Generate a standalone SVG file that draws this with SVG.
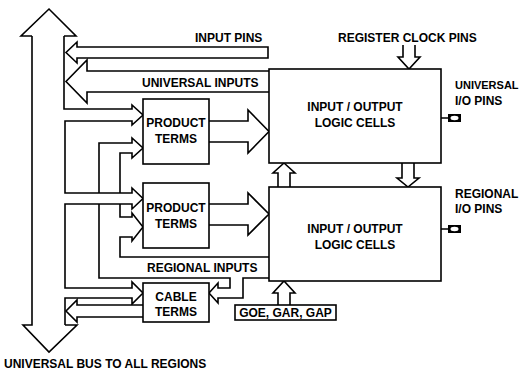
<svg xmlns="http://www.w3.org/2000/svg" width="521" height="373" viewBox="0 0 521 373">
<style>
.ln{fill:none;stroke:#000;stroke-width:1.6;stroke-linejoin:miter}
.ar{fill:#fff;stroke:#000;stroke-width:1.6}
.bx{fill:#fff;stroke:#000;stroke-width:1.6}
text{font-family:"Liberation Sans",Arial,sans-serif;font-size:12px;font-weight:bold;fill:#000}
.c{text-anchor:middle}
.s{font-size:11px}
</style>
<rect width="521" height="373" fill="#fff"/>
<g id="connectors">
<!-- universal bus -->
<path class="ln" d="M32,36 H21 L49,9 L76,36 H64"/>
<path class="ln" d="M32,36 V325 H23 L49,352 L77,325 H65"/>
<path class="ln" d="M64,36 V109 H132 V105 L143,115 L132,125 V121 H65 V193 H132 V188 L143,198.5 L132,209 V204 H65 V288 H132 V282 L143,293 L132,304 V298 H65 V325"/>
<!-- regional pipe to PT1 -->
<path class="ln" d="M99,193 V143 H132 V138 L143,148 L132,158 V153 H120 V193"/>
<!-- regional inputs pipe -->
<path class="ln" d="M120,204 V217 H132 V213 L143,227 L132,241 V237 H120 V257 H269"/>
<path class="ln" d="M99,204 V278 H230 V288 H218 V283 L209,293 L218,303 V298 H243 V278 H269"/>
<!-- cable terms output to bus -->
<path class="ar" d="M143,317 H77 V322 L66,311 L77,300 V305 H143"/>
<!-- input pins -->
<path class="ar" d="M268,47 H77 V42 L66,52.5 L77,63 V58 H268 Z"/>
<!-- universal inputs -->
<path class="ar" d="M269,71 H87 V60 L66,81.5 L87,103 V92 H269"/>
<!-- product terms outputs -->
<path class="ar" d="M209,121 H248 V110 L269,131.5 L248,153 V142 H209"/>
<path class="ar" d="M209,204 H248 V193 L269,214 L248,235 V225 H209"/>
<!-- between IO cells -->
<path class="ar" d="M278,187 V173 H273 L284,163 L295,173 H290 V187"/>
<path class="ar" d="M402,163 V178 H397 L408,187 L419,178 H414 V163"/>
<!-- register clock -->
<path class="ar" d="M403,45 V57 H398 L409,69 L420,57 H415 V45"/>
<!-- GOE up -->
<path class="ar" d="M278,305 V293 H273 L284,281 L295,293 H290 V305"/>
<!-- pins -->
<path class="ln" d="M441,118 H448 M441,229 H448"/>
</g>
<g id="io1">
<rect class="bx" x="269" y="69" width="172" height="94"/>
<text class="c" x="355" y="111">INPUT / OUTPUT</text>
<text class="c" x="355" y="127">LOGIC CELLS</text>
</g>
<g id="io2">
<rect class="bx" x="269" y="187" width="172" height="94"/>
<text class="c" x="355" y="233">INPUT / OUTPUT</text>
<text class="c" x="355" y="249">LOGIC CELLS</text>
</g>
<g id="pt1">
<rect class="bx" x="143" y="99" width="66" height="65"/>
<text class="c" x="176" y="127">PRODUCT</text>
<text class="c" x="176" y="143">TERMS</text>
</g>
<g id="pt2">
<rect class="bx" x="143" y="183" width="66" height="65"/>
<text class="c" x="176" y="212">PRODUCT</text>
<text class="c" x="176" y="228">TERMS</text>
</g>
<g id="cable">
<rect class="bx" x="143" y="283" width="66" height="39"/>
<text class="c" x="176" y="301">CABLE</text>
<text class="c" x="176" y="316">TERMS</text>
</g>
<g id="goe">
<rect class="bx" x="235" y="305" width="101" height="15"/>
<text class="c" x="285.5" y="316.5">GOE, GAR, GAP</text>
</g>
<g id="pin1">
<rect x="448" y="114" width="13" height="8" fill="#000"/>
<ellipse cx="454.5" cy="118" rx="4" ry="2.2" fill="#fff"/>
</g>
<g id="pin2">
<rect x="448" y="225" width="13" height="8" fill="#000"/>
<ellipse cx="454.5" cy="229" rx="4" ry="2.2" fill="#fff"/>
</g>
<g id="labels">
<text x="195" y="42">INPUT PINS</text>
<text x="338" y="42">REGISTER CLOCK PINS</text>
<text x="142" y="87">UNIVERSAL INPUTS</text>
<text class="s" x="455" y="89">UNIVERSAL</text>
<text x="455" y="105">I/O PINS</text>
<text x="455" y="198">REGIONAL</text>
<text x="455" y="213">I/O PINS</text>
<text x="147" y="272">REGIONAL INPUTS</text>
<text x="4" y="368">UNIVERSAL BUS TO ALL REGIONS</text>
</g>
</svg>
